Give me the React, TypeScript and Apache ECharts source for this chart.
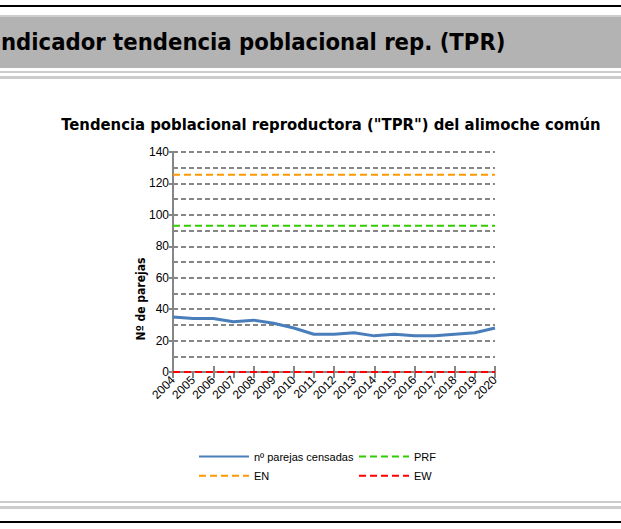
import React, { useEffect, useRef } from "react";
import * as echarts from "echarts";

const years = ["2004", "2005", "2006", "2007", "2008", "2009", "2010", "2011", "2012", "2013", "2014", "2015", "2016", "2017", "2018", "2019", "2020"];
const parejas = [35, 34, 34, 32, 33, 31, 28, 24, 24, 25, 23, 24, 23, 23, 24, 25, 28];
const prf = [93, 93, 93, 93, 93, 93, 93, 93, 93, 93, 93, 93, 93, 93, 93, 93, 93];
const en = [125.5, 125.5, 125.5, 125.5, 125.5, 125.5, 125.5, 125.5, 125.5, 125.5, 125.5, 125.5, 125.5, 125.5, 125.5, 125.5, 125.5];
const ew = [0, 0, 0, 0, 0, 0, 0, 0, 0, 0, 0, 0, 0, 0, 0, 0, 0];

const headerText = "ndicador tendencia poblacional rep. (TPR)";
const chartTitle = 'Tendencia poblacional reproductora ("TPR") del alimoche común';
const yName = "Nº de parejas";

const NARROW = "'Liberation Sans', Arial, sans-serif";
const BOLDF = "'DejaVu Sans Condensed', 'DejaVu Sans', sans-serif";
const AX = "#868686";

export default function App() {
  const ref = useRef<HTMLDivElement>(null);
  useEffect(() => {
    if (!ref.current) return;
    const chart = echarts.init(ref.current, null, { renderer: "svg" });
    const line = (name: string, data: number[], color: string, dashed: boolean, width: number) => ({
      name,
      type: "line",
      data,
      xAxisIndex: 0,
      yAxisIndex: 0,
      symbol: "none",
      showSymbol: false,
      clip: false,
      lineStyle: { color, width, type: dashed ? [7, 4] : "solid" },
      itemStyle: { color },
      z: 3,
    });
    const legendBase = {
      orient: "vertical",
      top: 451,
      padding: 0,
      itemWidth: 50,
      itemHeight: 14,
      itemGap: 8,
      itemStyle: { opacity: 0 },
      textStyle: { fontFamily: NARROW, fontSize: 11, color: "#000" },
    };
    chart.setOption({
      animation: false,
      backgroundColor: "#ffffff",
      title: {
        text: chartTitle,
        left: 326,
        top: 111,
        textAlign: "center",
        textStyle: { fontFamily: BOLDF, fontWeight: "bold", fontSize: 16.5, color: "#000" },
      },
      grid: { left: 173, right: 126, top: 152, bottom: 157 },
      xAxis: [
        {
          type: "category",
          data: years,
          boundaryGap: false,
          position: "bottom",
          axisLine: { show: true, lineStyle: { color: AX, width: 2 } },
          axisTick: { show: true, length: 6, lineStyle: { color: AX, width: 2 } },
          axisLabel: { rotate: 45, margin: 6, fontFamily: NARROW, fontSize: 12, color: "#000", interval: 0 },
          splitLine: { show: false },
        },
        {
          type: "category",
          data: years,
          boundaryGap: false,
          position: "bottom",
          axisLine: { show: false },
          axisTick: { show: true, inside: true, length: 6, lineStyle: { color: AX, width: 2 } },
          axisLabel: { show: false },
          splitLine: { show: false },
        },
      ],
      yAxis: {
        type: "value",
        min: 0,
        max: 140,
        interval: 20,
        axisLine: { show: true, lineStyle: { color: AX, width: 2 } },
        axisTick: { show: true, length: 4, lineStyle: { color: AX, width: 2 } },
        axisLabel: { margin: 4, fontFamily: NARROW, fontSize: 12, color: "#000" },
        splitLine: { show: true, lineStyle: { color: AX, width: 2, type: [5, 3] } },
        minorTick: { show: false, splitNumber: 2 },
        minorSplitLine: { show: true, lineStyle: { color: AX, width: 2, type: [5, 3] } },
      },
      legend: [
        { ...legendBase, left: 198, data: ["nº parejas censadas", "EN"] },
        { ...legendBase, left: 358, data: ["PRF", "EW"] },
      ],
      series: [
        line("nº parejas censadas", parejas, "#4A7EBB", false, 3),
        line("PRF", prf, "#33CC00", true, 2),
        line("EN", en, "#FF9900", true, 2),
        line("EW", ew, "#FF0000", true, 2),
      ],
      graphic: [
        { type: "rect", shape: { x: 0, y: 5, width: 621, height: 2 }, style: { fill: "#000" } },
        { type: "rect", shape: { x: 0, y: 15, width: 621, height: 2 }, style: { fill: "#cdcdcd" } },
        { type: "rect", shape: { x: 0, y: 17, width: 621, height: 51 }, style: { fill: "#b3b3b3" } },
        { type: "rect", shape: { x: 0, y: 71, width: 621, height: 2 }, style: { fill: "#cccccc" } },
        { type: "rect", shape: { x: 0, y: 76, width: 621, height: 3 }, style: { fill: "#cccccc" } },
        {
          type: "text",
          x: 1,
          y: 42,
          style: { text: headerText, fontFamily: BOLDF, fontWeight: "bold", fontSize: 23.6, fill: "#000", verticalAlign: "middle" },
        },
        { type: "rect", shape: { x: 0, y: 501, width: 621, height: 2 }, style: { fill: "#cccccc" } },
        { type: "rect", shape: { x: 0, y: 506, width: 621, height: 3 }, style: { fill: "#cccccc" } },
        { type: "rect", shape: { x: 0, y: 521, width: 621, height: 2 }, style: { fill: "#000" } },
        {
          type: "text",
          x: 141,
          y: 299,
          rotation: Math.PI / 2,
          style: { text: yName, fontFamily: BOLDF, fontWeight: "bold", fontSize: 12, fill: "#000", align: "center", verticalAlign: "middle" },
        },
      ],
    });
    return () => chart.dispose();
  }, []);
  return <div ref={ref} style={{ position: "fixed", left: 0, top: 0, width: 621, height: 529 }} />;
}
